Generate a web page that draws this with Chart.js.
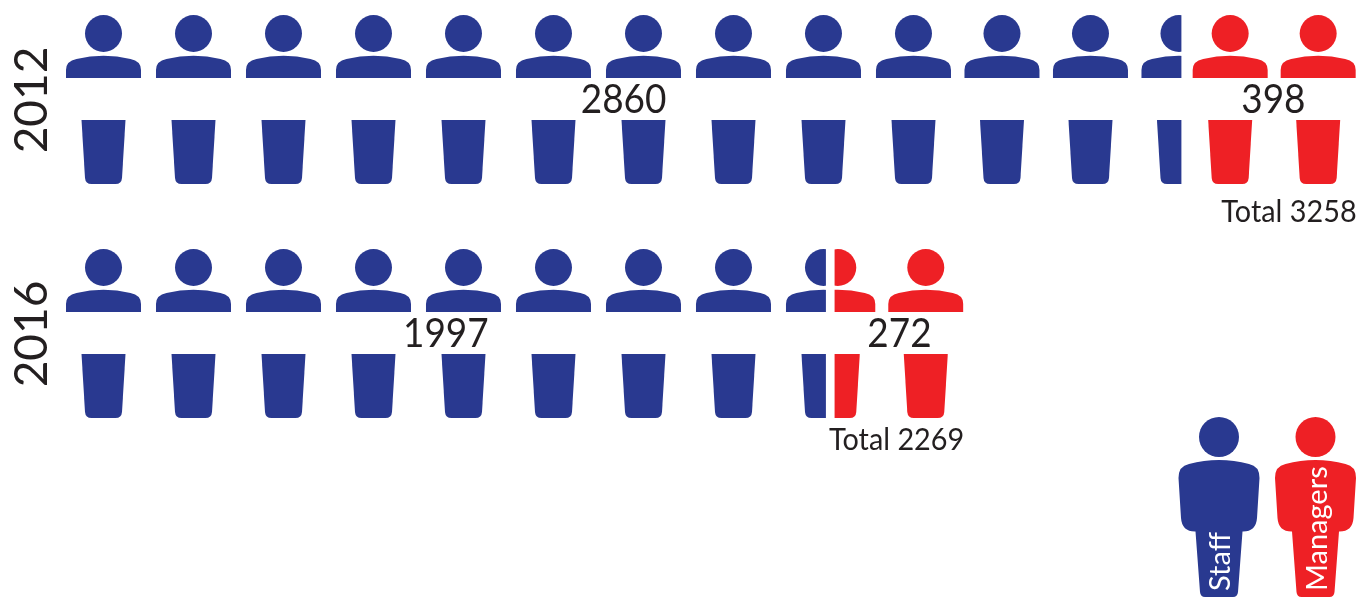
<!DOCTYPE html>
<html lang="en">
<head>
<meta charset="UTF-8">
<title>Staff and managers</title>
<script src="https://cdn.jsdelivr.net/npm/chart.js"></script>
<style>
    html, body { margin: 0; padding: 0; background: #fff; }
    #wrap { width: 1359px; height: 597px; }
</style>
</head>
<body>
<div id="wrap"><canvas id="chart" width="1359" height="597"></canvas></div>
<script>
    const years = ['2012', '2016'];
    // bar lengths are counted in person icons, as the picture does it
    const staffIcons = [12.39, 8.44];
    const managerIcons = [1.94, 1.53];
    const staffCounts = [2860, 1997];
    const managerCounts = [398, 272];
    const totals = [3258, 2269];

    const BLUE = '#293990';
    const RED = '#ee2025';
    const INK = '#231f20';
    const FONT = 'Lato';

    // one small person, split by the white band that holds the numbers
    function drawPerson(c, cx, cy) {
        c.beginPath();
        c.arc(cx, cy - 66.5, 18.5, 0, Math.PI * 2);
        c.fill();

        c.beginPath();
        c.moveTo(cx - 37.5, cy - 22);
        c.lineTo(cx - 37.5, cy - 30);
        c.quadraticCurveTo(cx - 37.5, cy - 39, cx - 27, cy - 41);
        c.quadraticCurveTo(cx, cy - 47.5, cx + 27, cy - 41);
        c.quadraticCurveTo(cx + 37.5, cy - 39, cx + 37.5, cy - 30);
        c.lineTo(cx + 37.5, cy - 22);
        c.closePath();
        c.fill();

        c.beginPath();
        c.moveTo(cx - 22, cy + 20);
        c.lineTo(cx + 22, cy + 20);
        c.lineTo(cx + 18.5, cy + 78);
        c.quadraticCurveTo(cx + 18, cy + 84, cx + 12, cy + 84);
        c.lineTo(cx - 12, cy + 84);
        c.quadraticCurveTo(cx - 18, cy + 84, cx - 18.5, cy + 78);
        c.closePath();
        c.fill();
    }

    function newTile(chart, colour) {
        const tile = document.createElement('canvas');
        tile.width = chart.width;
        tile.height = chart.height;
        const c = tile.getContext('2d');
        c.fillStyle = colour;
        return { tile, c };
    }

    // the bars are filled with a sheet of icons, so a bar's length decides where they get cut
    function staffPattern(ctx) {
        const chart = ctx.chart;
        const x = chart.scales.x;
        const cy = chart.scales.y.getPixelForValue(ctx.dataIndex);
        const { tile, c } = newTile(chart, BLUE);
        const pitch = x.getPixelForValue(1) - x.getPixelForValue(0);
        const count = Math.ceil(staffIcons[ctx.dataIndex]);
        let cx = x.getPixelForValue(0) + 37.5;
        for (let i = 0; i < count; i++) {
            drawPerson(c, cx, cy);
            cx += i < 9 ? pitch : pitch - 1.5;
        }
        return c.createPattern(tile, 'no-repeat');
    }

    function managerPattern(ctx) {
        const chart = ctx.chart;
        const x = chart.scales.x;
        const i = ctx.dataIndex;
        const cy = chart.scales.y.getPixelForValue(i);
        const { tile, c } = newTile(chart, RED);
        const start = x.getPixelForValue(staffIcons[i]);
        const end = x.getPixelForValue(staffIcons[i] + managerIcons[i]);
        c.beginPath();
        c.rect(start + 9, 0, chart.width, chart.height);
        c.clip();
        // managers are lined up from the far end of their bar
        for (let n = 0; n < Math.ceil(managerIcons[i]); n++) {
            drawPerson(c, end - 37.5 - n * 88, cy);
        }
        return c.createPattern(tile, 'no-repeat');
    }

    function squeezedText(c, text, x, y, size, squeeze, align) {
        c.save();
        c.translate(x, y);
        c.scale(squeeze, 1);
        c.font = size + 'px ' + FONT;
        c.textAlign = align;
        c.textBaseline = 'middle';
        c.fillText(text, 0, 0);
        c.restore();
    }

    const valueLabels = {
        id: 'valueLabels',
        afterDatasetsDraw(chart) {
            const c = chart.ctx;
            c.save();
            c.fillStyle = INK;
            years.forEach((year, i) => {
                const staffBar = chart.getDatasetMeta(0).data[i];
                const managerBar = chart.getDatasetMeta(1).data[i];
                const rowY = staffBar.y;
                const barLeft = managerBar.base;
                squeezedText(c, String(staffCounts[i]), (staffBar.base + staffBar.x) / 2, rowY, 41, 0.9, 'center');
                squeezedText(c, String(managerCounts[i]), (barLeft + managerBar.x) / 2 + 5, rowY, 41, 0.9, 'center');
                squeezedText(c, 'Total ' + totals[i], managerBar.x + 1, rowY + (i === 0 ? 112 : 106), 31, 0.93, 'right');
            });
            c.restore();
        }
    };

    // the two tall figures in the corner act as the legend
    function drawLegendFigure(c, cx, colour, label) {
        c.fillStyle = colour;
        c.beginPath();
        c.arc(cx, 437, 20, 0, Math.PI * 2);
        c.fill();

        c.beginPath();
        c.moveTo(cx - 40.5, 478);
        c.quadraticCurveTo(cx - 40.5, 466, cx - 30, 464);
        c.quadraticCurveTo(cx, 456, cx + 30, 464);
        c.quadraticCurveTo(cx + 40.5, 466, cx + 40.5, 478);
        c.lineTo(cx + 38, 518);
        c.quadraticCurveTo(cx + 37, 531.5, cx + 24, 531.5);
        c.lineTo(cx + 23.5, 531.5);
        c.lineTo(cx + 19, 592);
        c.quadraticCurveTo(cx + 18.5, 597, cx + 14, 597);
        c.lineTo(cx - 14, 597);
        c.quadraticCurveTo(cx - 18.5, 597, cx - 19, 592);
        c.lineTo(cx - 23.5, 531.5);
        c.lineTo(cx - 24, 531.5);
        c.quadraticCurveTo(cx - 37, 531.5, cx - 38, 518);
        c.closePath();
        c.fill();

        c.save();
        c.translate(cx + 2, 591);
        c.rotate(-Math.PI / 2);
        c.fillStyle = '#fff';
        c.font = '29px ' + FONT;
        c.textAlign = 'left';
        c.textBaseline = 'middle';
        c.fillText(label, 0, 0);
        c.restore();
    }

    const cornerLegend = {
        id: 'cornerLegend',
        afterDraw(chart) {
            const c = chart.ctx;
            c.save();
            drawLegendFigure(c, 1219, BLUE, chart.data.datasets[0].label);
            drawLegendFigure(c, 1315.5, RED, chart.data.datasets[1].label);
            c.restore();
        }
    };

    new Chart(document.getElementById('chart'), {
        type: 'bar',
        data: {
            labels: years,
            datasets: [
                { label: 'Staff', data: staffIcons, backgroundColor: staffPattern, clip: false, barThickness: 174, borderWidth: 0 },
                { label: 'Managers', data: managerIcons, backgroundColor: managerPattern, clip: false, barThickness: 174, borderWidth: 0 }
            ]
        },
        options: {
            indexAxis: 'y',
            responsive: false,
            devicePixelRatio: 1,
            animation: false,
            layout: { padding: { top: 100, bottom: 263, left: 0, right: 0 } },
            plugins: { legend: { display: false }, tooltip: { enabled: false } },
            scales: {
                x: { stacked: true, display: false, min: 0, max: 14.367 },
                y: {
                    stacked: true,
                    offset: false,
                    grid: { display: false, drawTicks: false },
                    border: { display: false },
                    afterFit(scale) { scale.width = 66; },
                    ticks: {
                        autoSkip: false,
                        minRotation: 90,
                        maxRotation: 90,
                        crossAlign: 'center',
                        padding: -20,
                        color: INK,
                        font: { family: FONT, size: 46 }
                    }
                }
            }
        },
        plugins: [valueLabels, cornerLegend]
    });
</script>
</body>
</html>
